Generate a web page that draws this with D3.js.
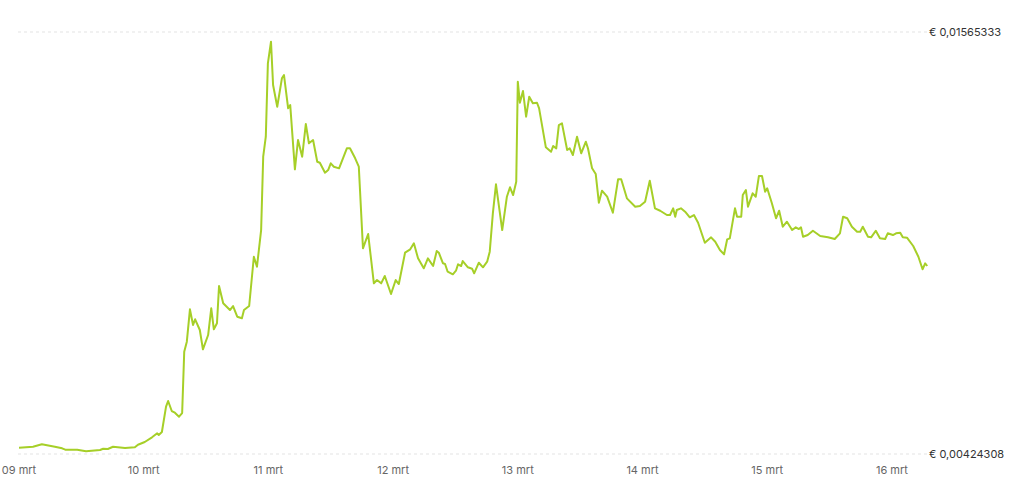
<!DOCTYPE html>
<html>
<head>
<meta charset="utf-8">
<script src="https://cdn.jsdelivr.net/npm/d3@7"></script>
<style>
  html, body { margin: 0; padding: 0; background: #fff; }
  svg { display: block; font-family: Inter, "Noto Sans", sans-serif; }
  .grid line { stroke: #e3e3e3; stroke-dasharray: 3,3; }
  .price-label { font-size: 11px; fill: #333; }
  .day-label { font-size: 11px; fill: #666; }
</style>
</head>
<body>
<svg id="chart" width="1024" height="490"></svg>
<script>
// hours since 09 mrt 00:00
var hours = [
  0, 2.7, 4.4, 6.9, 8.3, 8.9, 11.2, 12.9, 15.6, 16.2,
  17.1, 18.1, 20.4, 22.3, 22.9, 24.2, 25.6, 26.6, 26.9, 27.5,
  28.3, 28.7, 29.4, 30.0, 30.8, 31.4, 31.8, 32.3, 32.9, 33.5,
  33.9, 34.8, 35.4, 36.4, 37.0, 37.5, 38.1, 38.5, 39.3, 40.6,
  41.2, 42.0, 42.9, 43.3, 44.3, 45.2, 45.8, 46.6, 47.0, 47.5,
  47.9, 48.5, 48.9, 49.7, 50.6, 51.0, 51.8, 52.2, 53.1, 53.7,
  54.5, 55.2, 55.8, 56.6, 57.4, 57.9, 58.9, 59.5, 60.0, 60.6,
  61.6, 63.1, 63.7, 64.7, 65.4, 66.2, 67.2, 68.3, 68.9, 69.7,
  70.4, 71.6, 72.5, 73.1, 74.3, 75.3, 76.0, 76.8, 77.9, 78.7,
  79.7, 80.4, 80.8, 81.6, 82.0, 82.5, 83.5, 84.1, 84.5, 85.1,
  85.4, 86.4, 87.2, 87.6, 88.5, 89.3, 90.1, 90.6, 91.2, 91.8,
  93.0, 93.9, 94.5, 95.1, 95.7, 96.0, 96.4, 97.0, 97.6, 98.2,
  98.9, 99.7, 100.1, 101.4, 102.4, 102.8, 103.4, 103.9, 104.5, 105.5,
  106.0, 106.6, 107.4, 108.2, 109.1, 109.5, 110.3, 111.0, 111.6, 112.2,
  113.2, 114.3, 115.3, 115.9, 117.0, 118.6, 119.5, 120.5, 121.4, 122.4,
  123.4, 124.7, 125.3, 125.9, 126.3, 126.6, 127.4, 128.2, 129.1, 129.9,
  130.7, 132.0, 133.2, 134.0, 134.9, 135.7, 136.3, 136.8, 137.8, 138.2,
  139.0, 139.3, 139.9, 140.3, 141.2, 141.8, 142.4, 143.0, 143.6, 144.0,
  144.9, 145.7, 146.3, 147.0, 147.8, 148.8, 149.5, 150.1, 150.5, 150.9,
  151.8, 152.8, 154.2, 155.7, 157.0, 158.0, 158.6, 159.4, 160.3, 161.3,
  161.9, 162.4, 163.4, 164.0, 164.9, 165.7, 166.7, 167.2, 168.2, 168.8,
  169.6, 170.1, 170.9, 172.1, 173.1, 173.9, 174.4, 174.8
];

// price in euro
var prices = [
  0.004413, 0.004440, 0.004505, 0.004440, 0.004397, 0.004359, 0.004359, 0.004316, 0.004351, 0.004386,
  0.004378, 0.004440, 0.004405, 0.004424, 0.004494, 0.004567, 0.004694, 0.004802, 0.004757, 0.004838,
  0.005522, 0.005676, 0.005405, 0.005359, 0.005251, 0.005351, 0.007009, 0.007279, 0.008155, 0.007731,
  0.007885, 0.007596, 0.007074, 0.007460, 0.008182, 0.007614, 0.007777, 0.008785, 0.008317, 0.008136,
  0.008244, 0.007955, 0.007912, 0.008136, 0.008244, 0.009577, 0.009307, 0.010299, 0.012281, 0.012822,
  0.014807, 0.015390, 0.014220, 0.013633, 0.014401, 0.014490, 0.013590, 0.013679, 0.011940, 0.012733,
  0.012281, 0.013165, 0.012644, 0.012733, 0.012146, 0.012119, 0.011849, 0.011921, 0.012103, 0.012011,
  0.011967, 0.012508, 0.012508, 0.012238, 0.012011, 0.009805, 0.010191, 0.008858, 0.008947, 0.008858,
  0.009056, 0.008569, 0.008947, 0.008839, 0.009686, 0.009777, 0.009940, 0.009534, 0.009264, 0.009534,
  0.009326, 0.009732, 0.009686, 0.009399, 0.009380, 0.009172, 0.009102, 0.009199, 0.009372, 0.009326,
  0.009461, 0.009291, 0.009253, 0.009129, 0.009415, 0.009291, 0.009442, 0.009713, 0.010751, 0.011535,
  0.010299, 0.011200, 0.011454, 0.011246, 0.011605, 0.014309, 0.013741, 0.014058, 0.013363, 0.013903,
  0.013725, 0.013741, 0.013590, 0.012535, 0.012416, 0.012570, 0.012508, 0.013138, 0.013184, 0.012462,
  0.012508, 0.012327, 0.012822, 0.012373, 0.012687, 0.012508, 0.011967, 0.011813, 0.011037, 0.011362,
  0.011200, 0.010767, 0.011670, 0.011670, 0.011156, 0.010929, 0.010948, 0.011064, 0.011632, 0.010886,
  0.010821, 0.010705, 0.010705, 0.010886, 0.010659, 0.010840, 0.010886, 0.010794, 0.010643, 0.010705,
  0.010497, 0.009956, 0.010102, 0.009983, 0.009759, 0.009642, 0.010048, 0.010075, 0.010886, 0.010659,
  0.010659, 0.011246, 0.011381, 0.010929, 0.011292, 0.011200, 0.011759, 0.011759, 0.011335, 0.011427,
  0.011021, 0.010616, 0.010821, 0.010389, 0.010524, 0.010299, 0.010372, 0.010326, 0.010372, 0.010118,
  0.010164, 0.010280, 0.010137, 0.010102, 0.010056, 0.010210, 0.010659, 0.010616, 0.010389, 0.010253,
  0.010253, 0.010389, 0.010118, 0.010102, 0.010280, 0.010075, 0.010056, 0.010210, 0.010164, 0.010210,
  0.010226, 0.010102, 0.010091, 0.009867, 0.009577, 0.009237, 0.009399, 0.009326
];

var dayLabels = ['09 mrt', '10 mrt', '11 mrt', '12 mrt', '13 mrt', '14 mrt', '15 mrt', '16 mrt'];
var priceTicks = [0.00424308, 0.01565333];

(function() {
  var svg = d3.select('#chart');
  var plotLeft = 19;
  var plotRight = 927;
  var plotTop = 32;
  var plotBottom = 454;
  var pxPerDay = 124.7;

  var x = d3.scaleLinear()
      .domain([0, 24])
      .range([plotLeft, plotLeft + pxPerDay]);
  var y = d3.scaleLinear()
      .domain(d3.extent(priceTicks))
      .range([plotBottom, plotTop]);

  var nl = d3.formatLocale({decimal: ',', thousands: '.', grouping: [3], currency: ['€ ', '']});
  var fmtPrice = function(v) {
    return '€ ' + nl.format('.8f')(v);
  };

  // dashed gridlines at min / max
  var grid = svg.append('g').attr('class', 'grid');
  grid.selectAll('line').data(priceTicks)
      .enter().append('line')
      .attr('x1', plotLeft - 1)
      .attr('x2', plotRight)
      .attr('y1', function(d) { return y(d); })
      .attr('y2', function(d) { return y(d); });

  svg.append('g').selectAll('text').data(priceTicks)
      .enter().append('text')
      .attr('class', 'price-label')
      .attr('x', plotRight + 2)
      .attr('y', function(d) { return y(d); })
      .attr('dy', '0.35em')
      .text(fmtPrice);

  svg.append('g').selectAll('text').data(dayLabels)
      .enter().append('text')
      .attr('class', 'day-label')
      .attr('text-anchor', 'middle')
      .attr('x', function(d, i) { return x(i * 24); })
      .attr('y', 474)
      .text(function(d) { return d; });

  var points = hours.map(function(h, i) {
    return {h: h, v: prices[i]};
  });

  var line = d3.line()
      .x(function(d) { return x(d.h); })
      .y(function(d) { return y(d.v); });

  svg.append('path')
      .datum(points)
      .attr('fill', 'none')
      .attr('stroke', '#a6cf28')
      .attr('stroke-width', 2)
      .attr('stroke-linejoin', 'round')
      .attr('d', line);
})();
</script>
</body>
</html>
